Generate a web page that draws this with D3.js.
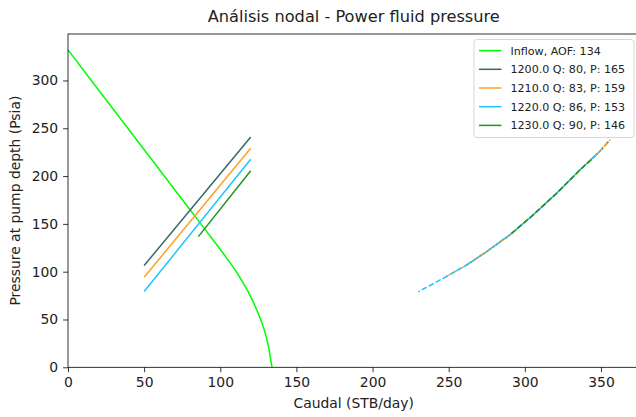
<!DOCTYPE html>
<html><head><meta charset="utf-8">
<script src="https://cdn.jsdelivr.net/npm/d3@7"></script>
<style>body{margin:0;background:#fff} svg{display:block} text{font-family:"DejaVu Sans",sans-serif}</style>
</head><body><svg id="c" width="636" height="417"></svg>
<script>
// ---- data ----
const inflowQ = [0, 15.3, 39.3, 63.2, 80, 87.2, 96.8, 102, 106.2, 110.5, 114.4, 118.0, 121.2, 124.0, 126.5, 128.7, 130.5, 131.9, 132.9, 134];
const inflowP = [332, 300, 250, 200, 165, 150, 130, 119, 110, 100, 90, 80, 70, 60, 50, 40, 30, 20, 10, 0];
const aof = 134;

const seriesNames = ["1200.0", "1210.0", "1220.0", "1230.0"];
const opQ = [80, 83, 86, 90];
const opP = [165, 159, 153, 146];
const seriesColors = ["#3b6666", "#ffa21f", "#1ec4ff", "#1f931f"];

// straight outflow lines
const outflowQ = [[50, 120], [50, 120], [50, 120], [85.6, 120]];
const outflowP = [[106.4, 240.8], [94.2, 229.2], [79.2, 217.7], [136.7, 205.5]];

// dashed pump curves
const pumpQ = [
  [261.8, 274.9, 290.2, 305.5, 320.9, 336.2, 349.3, 356],
  [248.6, 261.8, 274.9, 290.2, 305.5, 320.9, 336.2, 349.3, 356],
  [230, 248.6, 261.8, 274.9, 290.2, 305.5, 320.9, 336.2, 349.3],
  [290.2, 305.5, 320.9, 336.2, 345]
];
const pumpP = [
  [107, 121, 138.5, 159.4, 182.1, 206.5, 226, 238],
  [95, 107, 121, 138.5, 159.4, 182.1, 206.5, 226, 238],
  [79, 95, 107, 121, 138.5, 159.4, 182.1, 206.5, 226],
  [138.5, 159.4, 182.1, 206.5, 219]
];

const xTicks = [0, 50, 100, 150, 200, 250, 300, 350];
const yTicks = [0, 50, 100, 150, 200, 250, 300];
const titleText = "Análisis nodal - Power fluid pressure";
const xLabel = "Caudal (STB/day)";
const yLabel = "Pressure at pump depth (Psia)";

// ---- layout ----
const L = 68, R = 639.5, T = 34, B = 367.3;
const svg = d3.select("#c");
const x = d3.scaleLinear().domain([0, 375.3]).range([L, R]);
const y = d3.scaleLinear().domain([0, 348.6]).range([B, T]);

svg.append("defs").append("clipPath").attr("id", "clip")
  .append("rect").attr("x", L).attr("y", T).attr("width", R - L).attr("height", B - T);

const plot = svg.append("g").attr("clip-path", "url(#clip)");
const line = d3.line().x(d => x(d[0])).y(d => y(d[1]));
const zip = (a, b) => a.map((v, i) => [v, b[i]]);

plot.append("path").datum(zip(inflowQ, inflowP)).attr("d", line)
  .attr("fill", "none").attr("stroke", "#00ff00").attr("stroke-width", 1.5);

seriesNames.forEach((s, i) => {
  plot.append("path").datum(zip(outflowQ[i], outflowP[i])).attr("d", line)
    .attr("fill", "none").attr("stroke", seriesColors[i]).attr("stroke-width", 1.5);
});
seriesNames.forEach((s, i) => {
  plot.append("path").datum(zip(pumpQ[i], pumpP[i])).attr("d", line)
    .attr("fill", "none").attr("stroke", seriesColors[i]).attr("stroke-width", 1.5)
    .attr("stroke-dasharray", "5.55,2.4").attr("stroke-dashoffset", i * 2);
});

// axes
const xAxis = svg.append("g").attr("transform", `translate(0,${B})`)
  .call(d3.axisBottom(x).tickValues(xTicks).tickFormat(d3.format("d")).tickSize(4.9).tickPadding(4.9).tickSizeOuter(0));
const yAxis = svg.append("g").attr("transform", `translate(${L},0)`)
  .call(d3.axisLeft(y).tickValues(yTicks).tickFormat(d3.format("d")).tickSize(4.9).tickPadding(4.9).tickSizeOuter(0));
[xAxis, yAxis].forEach(g => {
  g.select(".domain").remove();
  g.selectAll("line").attr("stroke", "#000").attr("stroke-width", 0.8);
  g.selectAll("text").attr("font-size", 13.9).attr("fill", "#222").attr("font-family", "DejaVu Sans");
});

// spines
svg.append("rect").attr("x", L).attr("y", T).attr("width", R - L).attr("height", B - T)
  .attr("fill", "none").attr("stroke", "#000").attr("stroke-width", 0.8);

// labels
svg.append("text").attr("x", (L + R) / 2).attr("y", 22).attr("text-anchor", "middle")
  .attr("font-size", 16.2).attr("fill", "#222").text(titleText);
svg.append("text").attr("x", (L + R) / 2).attr("y", 407.5).attr("text-anchor", "middle")
  .attr("font-size", 13.9).attr("fill", "#222").text(xLabel);
svg.append("text").attr("transform", `translate(19.5,${(T + B) / 2}) rotate(-90)`).attr("text-anchor", "middle")
  .attr("font-size", 13.9).attr("fill", "#222").text(yLabel);

// legend
const legendLabels = [`Inflow, AOF: ${aof}`].concat(seriesNames.map((s, i) => `${s} Q: ${opQ[i]}, P: ${opP[i]}`));
const legendColors = ["#00ff00"].concat(seriesColors);
const lg = svg.append("g");
lg.append("rect").attr("x", 474).attr("y", 39.5).attr("width", 160).attr("height", 98)
  .attr("rx", 3).attr("fill", "#fff").attr("fill-opacity", 0.9).attr("stroke", "#d6d6d6").attr("stroke-width", 1);
legendLabels.forEach((t, i) => {
  const cy = 50.6 + i * 18.7;
  lg.append("line").attr("x1", 479).attr("x2", 501.5).attr("y1", cy).attr("y2", cy)
    .attr("stroke", legendColors[i]).attr("stroke-width", 1.5);
  lg.append("text").attr("x", 510.5).attr("y", cy + 4).attr("font-size", 11.1).attr("fill", "#222").text(t);
});
</script></body></html>
